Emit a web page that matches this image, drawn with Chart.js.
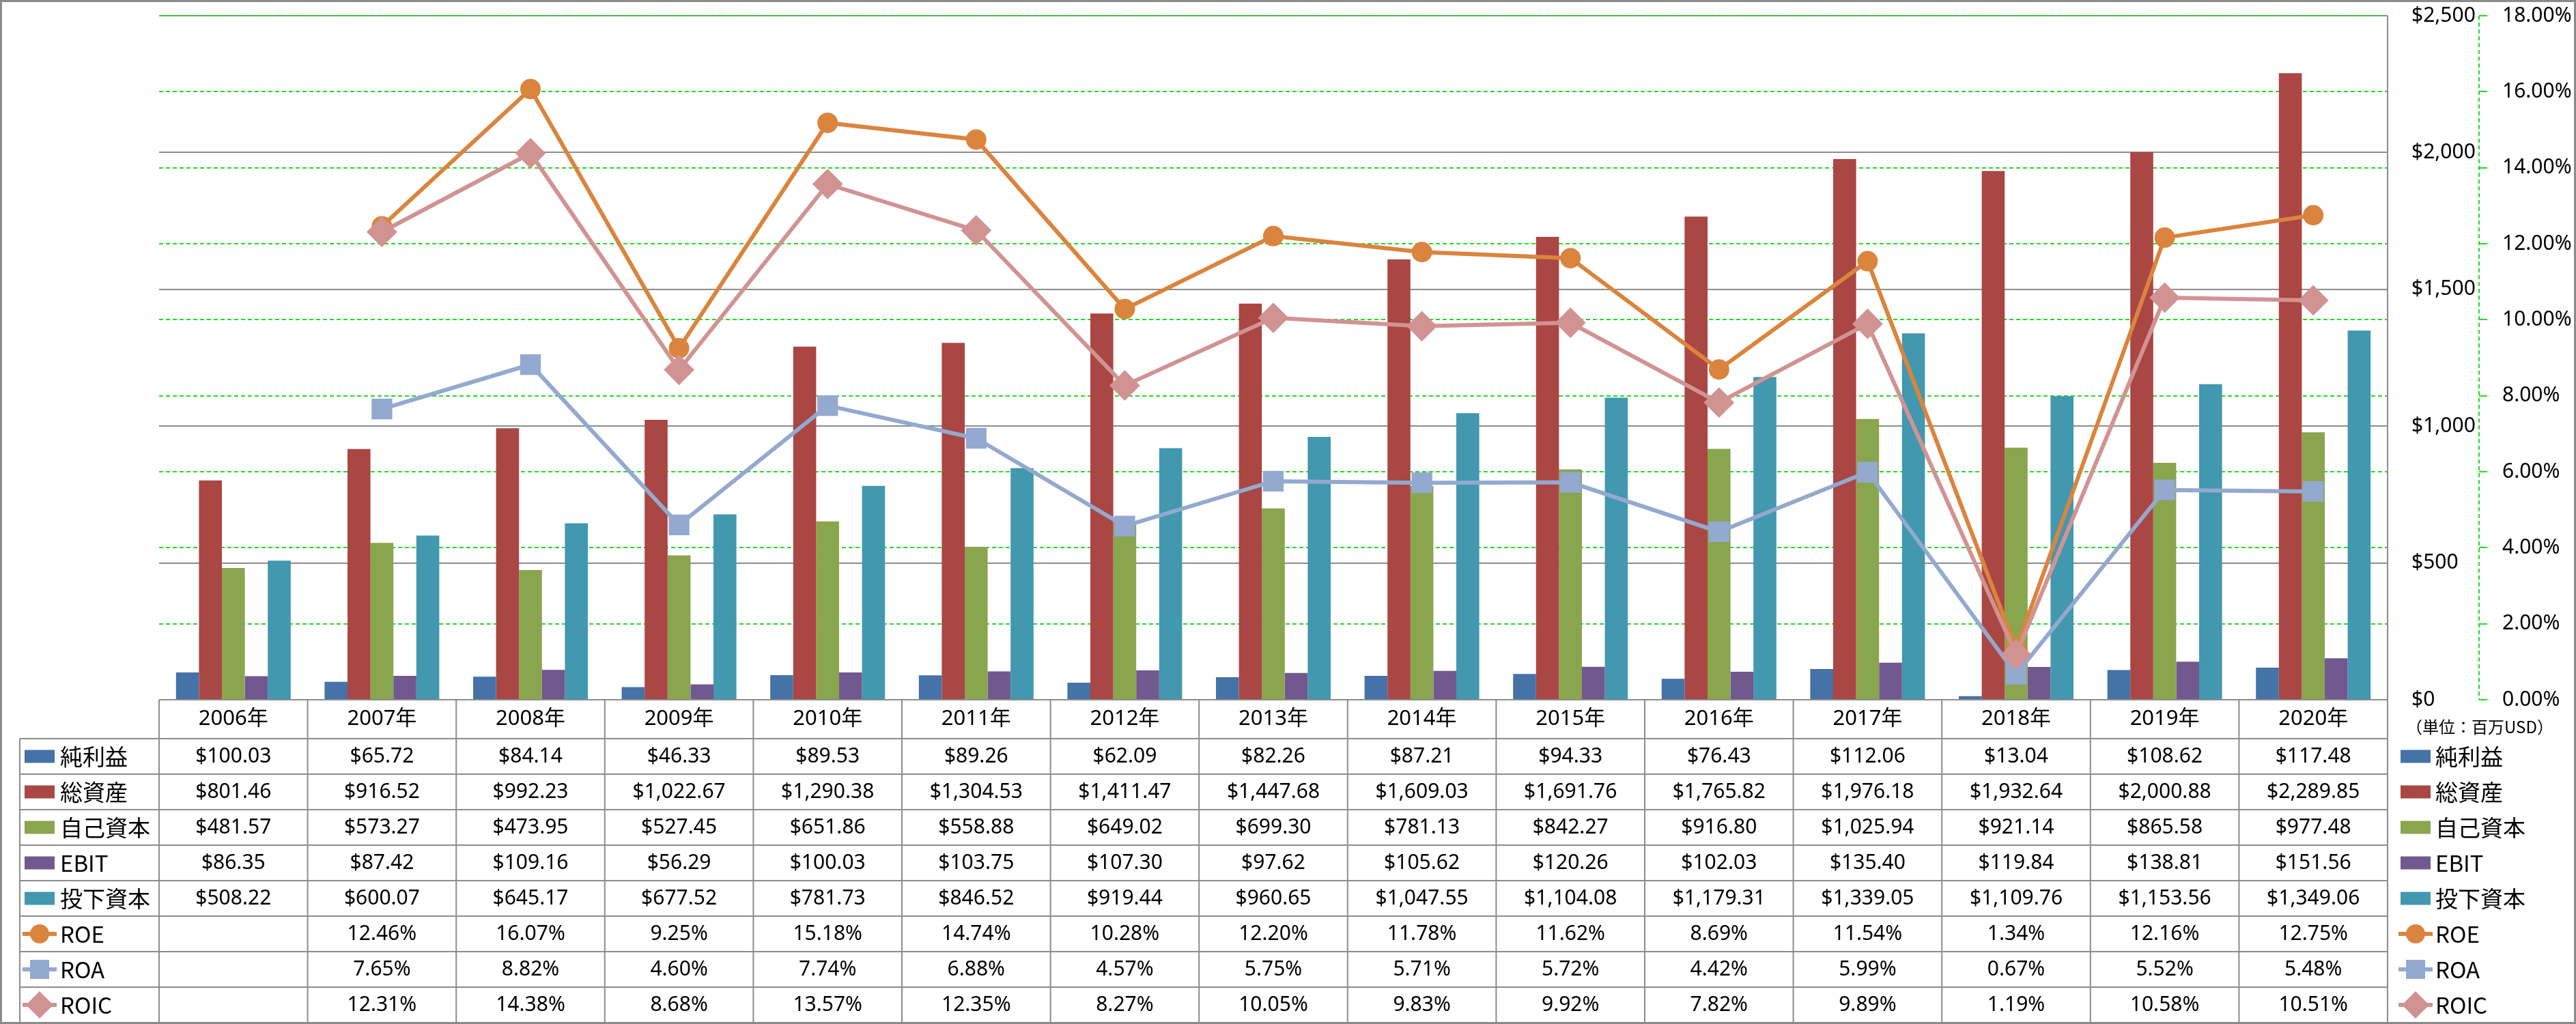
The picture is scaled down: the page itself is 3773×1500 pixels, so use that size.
<!DOCTYPE html>
<html>
<head>
<meta charset="utf-8">
<script src="https://cdn.jsdelivr.net/npm/chart.js@4.4.1/dist/chart.umd.min.js"></script>
<style>
body { margin: 0; background: #fff; }
canvas { display: block; }
</style>
</head>
<body>
<canvas id="chart" width="3773" height="1500"></canvas>
<script>
let years = ["2006年", "2007年", "2008年", "2009年", "2010年", "2011年", "2012年", "2013年",
    "2014年", "2015年", "2016年", "2017年", "2018年", "2019年", "2020年"];

let netIncome = [100.03, 65.72, 84.14, 46.33, 89.53, 89.26, 62.09, 82.26, 87.21, 94.33, 76.43, 112.06, 13.04, 108.62, 117.48];
let totalAssets = [801.46, 916.52, 992.23, 1022.67, 1290.38, 1304.53, 1411.47, 1447.68, 1609.03, 1691.76, 1765.82, 1976.18, 1932.64, 2000.88, 2289.85];
let equity = [481.57, 573.27, 473.95, 527.45, 651.86, 558.88, 649.02, 699.30, 781.13, 842.27, 916.80, 1025.94, 921.14, 865.58, 977.48];
let ebit = [86.35, 87.42, 109.16, 56.29, 100.03, 103.75, 107.30, 97.62, 105.62, 120.26, 102.03, 135.40, 119.84, 138.81, 151.56];
let investedCapital = [508.22, 600.07, 645.17, 677.52, 781.73, 846.52, 919.44, 960.65, 1047.55, 1104.08, 1179.31, 1339.05, 1109.76, 1153.56, 1349.06];

let roe = [null, 12.46, 16.07, 9.25, 15.18, 14.74, 10.28, 12.20, 11.78, 11.62, 8.69, 11.54, 1.34, 12.16, 12.75];
let roa = [null, 7.65, 8.82, 4.60, 7.74, 6.88, 4.57, 5.75, 5.71, 5.72, 4.42, 5.99, 0.67, 5.52, 5.48];
let roic = [null, 12.31, 14.38, 8.68, 13.57, 12.35, 8.27, 10.05, 9.83, 9.92, 7.82, 9.89, 1.19, 10.58, 10.51];

let dollarTicks = [0, 500, 1000, 1500, 2000, 2500];
let percentTicks = [0, 2, 4, 6, 8, 10, 12, 14, 16, 18];

let numFont = '30px "Noto Sans"';
let cjkFont = '33px "Noto Sans CJK JP"';

function money(v) {
    return "$" + v.toLocaleString("en-US", { minimumFractionDigits: 2, maximumFractionDigits: 2 });
}

function barSet(label, data, color) {
    return {
        type: "bar", label: label, data: data, yAxisID: "y", order: 3,
        backgroundColor: color, borderWidth: 0,
        barPercentage: 1, categoryPercentage: 0.772
    };
}

function lineSet(label, data, color, style, radius, order) {
    return {
        type: "line", label: label, data: data, yAxisID: "y1", order: order,
        borderColor: color, backgroundColor: color, borderWidth: 6,
        pointStyle: style, pointRadius: radius, pointBackgroundColor: color,
        pointBorderColor: color, pointBorderWidth: 2, tension: 0
    };
}

// little legend marks used in the table and on the right
function drawKey(ctx, ds, cx, cy) {
    ctx.save();
    if (ds.type === "line") {
        ctx.strokeStyle = ds.borderColor;
        ctx.lineWidth = 6;
        ctx.beginPath();
        ctx.moveTo(cx - 25, cy);
        ctx.lineTo(cx + 25, cy);
        ctx.stroke();
        ctx.fillStyle = ds.borderColor;
        ctx.beginPath();
        if (ds.pointStyle === "circle") {
            ctx.arc(cx, cy, 14, 0, Math.PI * 2);
        } else if (ds.pointStyle === "rect") {
            ctx.rect(cx - 14, cy - 14, 28, 28);
        } else {
            ctx.moveTo(cx, cy - 20);
            ctx.lineTo(cx + 20, cy);
            ctx.lineTo(cx, cy + 20);
            ctx.lineTo(cx - 20, cy);
            ctx.closePath();
        }
        ctx.fill();
    } else {
        ctx.fillStyle = ds.backgroundColor;
        ctx.fillRect(cx - 22, cy - 9.5, 44, 19);
    }
    ctx.restore();
}

let tablePlugin = {
    id: "dataTable",
    afterDraw: function (chart) {
        let ctx = chart.ctx;
        let x = chart.scales.x;
        let y1 = chart.scales.y1;
        let area = chart.chartArea;
        let sets = chart.data.datasets;
        let colW = (x.right - x.left) / years.length;
        let top = area.bottom;
        let headH = 57;
        let rowH = 52;
        let labelLeft = 29;
        let bottom = top + headH + rowH * sets.length;

        ctx.save();

        // dashed axis line of the % scale
        ctx.strokeStyle = "#22dd22";
        ctx.lineWidth = 2;
        ctx.setLineDash([6, 4]);
        ctx.beginPath();
        ctx.moveTo(y1.left, y1.top);
        ctx.lineTo(y1.left, y1.bottom);
        ctx.stroke();
        ctx.setLineDash([]);

        // table lines
        ctx.strokeStyle = "#8c8c8c";
        ctx.lineWidth = 2;
        ctx.beginPath();
        ctx.moveTo(x.left, top);
        ctx.lineTo(x.right, top);
        for (let r = 0; r <= sets.length; r++) {
            let yy = top + headH + r * rowH;
            ctx.moveTo(labelLeft, yy);
            ctx.lineTo(x.right, yy);
        }
        for (let c = 0; c <= years.length; c++) {
            let xx = x.left + c * colW;
            ctx.moveTo(xx, top);
            ctx.lineTo(xx, bottom);
        }
        ctx.moveTo(labelLeft, top + headH);
        ctx.lineTo(labelLeft, bottom);
        ctx.moveTo(x.right, area.top);
        ctx.lineTo(x.right, top);
        ctx.stroke();

        ctx.fillStyle = "#000";
        ctx.textBaseline = "middle";

        // header row
        ctx.textAlign = "center";
        ctx.font = '31px "Noto Sans", "Noto Sans CJK JP"';
        for (let c = 0; c < years.length; c++) {
            ctx.fillText(years[c], x.getPixelForValue(c), top + headH / 2);
        }

        // value rows
        for (let r = 0; r < sets.length; r++) {
            let ds = sets[r];
            let cy = top + headH + r * rowH + rowH / 2;
            ctx.font = numFont;
            ctx.textAlign = "center";
            for (let c = 0; c < years.length; c++) {
                let v = ds.data[c];
                if (v === null) continue;
                let txt = ds.type === "line" ? v.toFixed(2) + "%" : money(v);
                ctx.fillText(txt, x.getPixelForValue(c), cy);
            }
            drawKey(ctx, ds, 58, cy);
            ctx.font = cjkFont;
            ctx.textAlign = "left";
            ctx.fillText(ds.label, 88, cy);

            // right legend
            drawKey(ctx, ds, 3538, cy);
            ctx.fillText(ds.label, 3567, cy);
        }

        ctx.font = '24px "Noto Sans CJK JP"';
        ctx.textAlign = "center";
        ctx.fillText("（単位：百万USD）", 3632, top + 40);

        // outer frame
        ctx.strokeStyle = "#8a8a8a";
        ctx.lineWidth = 3;
        ctx.strokeRect(1.5, 1.5, chart.width - 3, chart.height - 3);
        ctx.restore();
    }
};

function fixWidth(w) {
    return function (s) {
        s.width = w;
        s.paddingTop = 0;
        s.paddingBottom = 0;
    };
}

let ctx = document.getElementById("chart").getContext("2d");

let chart = new Chart(ctx, {
    type: "bar",
    data: {
        labels: years,
        datasets: [
            barSet("純利益", netIncome, "#4572A7"),
            barSet("総資産", totalAssets, "#AA4643"),
            barSet("自己資本", equity, "#89A54E"),
            barSet("EBIT", ebit, "#71588F"),
            barSet("投下資本", investedCapital, "#4198AF"),
            lineSet("ROE", roe, "#DB843D", "circle", 14, 2),
            lineSet("ROA", roa, "#93A9CF", "rect", 20, 1),
            lineSet("ROIC", roic, "#D19392", "rectRot", 21, 0)
        ]
    },
    options: {
        responsive: false,
        devicePixelRatio: 1,
        animation: false,
        layout: { padding: { left: 233, top: 21, right: 0, bottom: 475 } },
        plugins: { legend: { display: false }, tooltip: { enabled: false } },
        scales: {
            x: { display: false },
            y: {
                position: "right",
                min: dollarTicks[0],
                max: dollarTicks[dollarTicks.length - 1],
                afterBuildTicks: function (s) { s.ticks = dollarTicks.map(function (v) { return { value: v }; }); },
                afterFit: fixWidth(134),
                grid: { color: "#8c8c8c", lineWidth: 2, drawTicks: false },
                border: { display: false },
                ticks: {
                    padding: 35, color: "#000", font: { family: "Noto Sans", size: 30 },
                    callback: function (v) { return "$" + v.toLocaleString("en-US"); }
                }
            },
            y1: {
                position: "right",
                min: percentTicks[0],
                max: percentTicks[percentTicks.length - 1],
                afterBuildTicks: function (s) { s.ticks = percentTicks.map(function (v) { return { value: v }; }); },
                afterFit: fixWidth(142),
                grid: { color: "#22dd22", lineWidth: 2, drawTicks: true, tickLength: 12 },
                border: { display: false, dash: [6, 4] },
                ticks: {
                    padding: 22, color: "#000", font: { family: "Noto Sans", size: 30 },
                    callback: function (v) { return v.toFixed(2) + "%"; }
                }
            }
        }
    },
    plugins: [tablePlugin]
});
</script>
</body>
</html>
